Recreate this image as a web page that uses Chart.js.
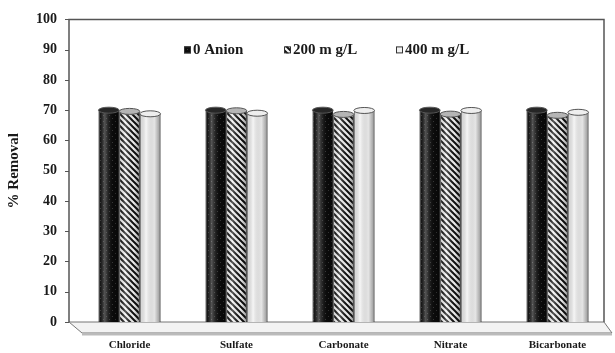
<!DOCTYPE html>
<html>
<head>
<meta charset="utf-8">
<script src="https://cdn.jsdelivr.net/npm/chart.js@4.4.1/dist/chart.umd.min.js"></script>
<style>
  html, body { margin: 0; padding: 0; background: #fff; }
  #wrap { width: 615px; height: 353px; }
</style>
</head>
<body>
<div id="wrap"><canvas id="removalChart" width="615" height="353"></canvas></div>
<script>
// categories and series
let categories = ['Chloride', 'Sulfate', 'Carbonate', 'Nitrate', 'Bicarbonate']
let seriesNames = ['0 Anion', '200 m g/L', '400 m g/L']
let noAnion = [70, 70, 70, 70, 70]
let conc200 = [69.6, 69.8, 68.6, 68.7, 68.3]
let conc400 = [68.8, 69, 69.9, 69.9, 69.3]
let yTicks = [0, 10, 20, 30, 40, 50, 60, 70, 80, 90, 100]

let serif = '"Liberation Serif", "Times New Roman", serif'
let shift = 7 // back wall sits a bit left of the bars (fake 3D)

//small canvas patterns for the bar fills
function makePattern(kind) {
    let c = document.createElement('canvas')
    c.width = 6
    c.height = 6
    let g = c.getContext('2d')
    if (kind === 'dots') {
        g.fillStyle = '#0c0c0c'
        g.fillRect(0, 0, 6, 6)
        g.fillStyle = '#3a3a3a'
        g.fillRect(1, 1, 1, 1)
        g.fillRect(4, 4, 1, 1)
    } else if (kind === 'hatch') {
        g.fillStyle = '#fafafa'
        g.fillRect(0, 0, 6, 6)
        g.strokeStyle = '#111'
        g.lineWidth = 2
        g.beginPath()
        g.moveTo(-1, -1); g.lineTo(7, 7)
        g.moveTo(-4, 2); g.lineTo(4, 10)
        g.moveTo(2, -4); g.lineTo(10, 4)
        g.stroke()
    } else {
        g.fillStyle = '#f2f2f2'
        g.fillRect(0, 0, 6, 6)
    }
    return g.createPattern(c, 'repeat')
}

let fills = [makePattern('dots'), makePattern('hatch'), makePattern('plain')]
let capColors = ['#262626', '#b5b5b5', '#eeeeee']

//floor, back wall and y tick marks
let framePlugin = {
    id: 'frame',
    beforeDatasetsDraw(chart) {
        let ctx = chart.ctx
        let a = chart.chartArea
        let L = a.left - shift, R = a.right - shift
        ctx.save()
        // floor
        ctx.beginPath()
        ctx.moveTo(L, a.bottom)
        ctx.lineTo(R, a.bottom)
        ctx.lineTo(a.right + 1, a.bottom + 11)
        ctx.lineTo(a.left + 6, a.bottom + 11)
        ctx.closePath()
        ctx.fillStyle = '#f3f3f3'
        ctx.fill()
        ctx.strokeStyle = '#777'
        ctx.lineWidth = 1
        ctx.stroke()
        ctx.strokeStyle = '#bbb'
        ctx.lineWidth = 2
        ctx.beginPath()
        ctx.moveTo(a.left + 6, a.bottom + 12.5)
        ctx.lineTo(a.right + 1, a.bottom + 12.5)
        ctx.stroke()
        // wall
        ctx.strokeStyle = '#555'
        ctx.lineWidth = 1.5
        ctx.beginPath()
        ctx.moveTo(L, a.bottom)
        ctx.lineTo(L, a.top)
        ctx.lineTo(R, a.top)
        ctx.lineTo(R, a.bottom)
        ctx.stroke()
        // tick marks
        let y = chart.scales.y
        ctx.lineWidth = 1
        yTicks.forEach(function (v) {
            let py = Math.round(y.getPixelForValue(v)) + 0.5
            ctx.beginPath()
            ctx.moveTo(L - 4, py)
            ctx.lineTo(L, py)
            ctx.stroke()
        })
        ctx.restore()
    },
    afterDatasetsDraw(chart) {
        let ctx = chart.ctx
        ctx.save()
        chart.data.datasets.forEach(function (ds, i) {
            chart.getDatasetMeta(i).data.forEach(function (bar) {
                let w = bar.width, x0 = bar.x - w / 2
                // round shading
                let grad = ctx.createLinearGradient(x0, 0, x0 + w, 0)
                grad.addColorStop(0, 'rgba(0,0,0,0.10)')
                grad.addColorStop(0.3, 'rgba(255,255,255,0.30)')
                grad.addColorStop(0.7, 'rgba(0,0,0,0.05)')
                grad.addColorStop(1, 'rgba(0,0,0,0.40)')
                ctx.fillStyle = grad
                ctx.fillRect(x0, bar.y, w, bar.base - bar.y)
                // top cap
                ctx.beginPath()
                ctx.ellipse(bar.x, bar.y, w / 2, 3, 0, 0, Math.PI * 2)
                ctx.fillStyle = capColors[i]
                ctx.fill()
                ctx.strokeStyle = '#555'
                ctx.lineWidth = 1
                ctx.stroke()
            })
        })
        ctx.restore()
    }
}

//legend drawn inside the plot
let legendPlugin = {
    id: 'innerLegend',
    afterDraw(chart) {
        let ctx = chart.ctx
        let a = chart.chartArea
        let offsets = [111, 211, 323]
        ctx.save()
        ctx.font = 'bold 15px ' + serif
        ctx.textBaseline = 'middle'
        chart.data.datasets.forEach(function (ds, i) {
            let x = a.left + offsets[i]
            let y = a.top + 30
            ctx.fillStyle = fills[i]
            ctx.fillRect(x - 3, y - 3, 7, 7)
            ctx.strokeStyle = '#333'
            ctx.lineWidth = 1
            ctx.strokeRect(x - 2.5, y - 2.5, 6, 6)
            ctx.fillStyle = '#1a1a1a'
            ctx.fillText(ds.label, x + 6, y + 1)
        })
        ctx.restore()
    }
}

let ctx = document.getElementById('removalChart').getContext('2d')

let removalChart = new Chart(ctx, {
    type: 'bar',
    data: {
        labels: categories,
        datasets: [
            { label: seriesNames[0], data: noAnion, backgroundColor: fills[0], borderColor: '#222', borderWidth: 1 },
            { label: seriesNames[1], data: conc200, backgroundColor: fills[1], borderColor: '#444', borderWidth: 1 },
            { label: seriesNames[2], data: conc400, backgroundColor: fills[2], borderColor: '#666', borderWidth: 1 }
        ]
    },
    options: {
        responsive: false,
        animation: false,
        layout: { padding: { top: 17, right: 4, bottom: 0, left: 0 } },
        plugins: {
            legend: { display: false },
            tooltip: { enabled: false }
        },
        datasets: {
            bar: { categoryPercentage: 0.58, barPercentage: 1 }
        },
        scales: {
            x: {
                grid: { display: false },
                border: { display: false },
                ticks: {
                    color: '#1a1a1a',
                    padding: 9,
                    font: { family: serif, size: 11, weight: 'bold' }
                },
                afterFit: function (scale) { scale.height = 31 }
            },
            y: {
                min: 0,
                max: 100,
                grid: { display: false },
                border: { display: false },
                afterBuildTicks: function (scale) {
                    scale.ticks = yTicks.map(v => ({ value: v }))
                },
                ticks: {
                    color: '#1a1a1a',
                    padding: 11,
                    font: { family: serif, size: 14, weight: 'bold' }
                },
                title: {
                    display: true,
                    text: '% Removal',
                    color: '#1a1a1a',
                    padding: { top: 5, bottom: 0 },
                    font: { family: serif, size: 15, weight: 'bold' }
                },
                afterFit: function (scale) { scale.width = 76 }
            }
        }
    },
    plugins: [framePlugin, legendPlugin]
})
</script>
</body>
</html>
